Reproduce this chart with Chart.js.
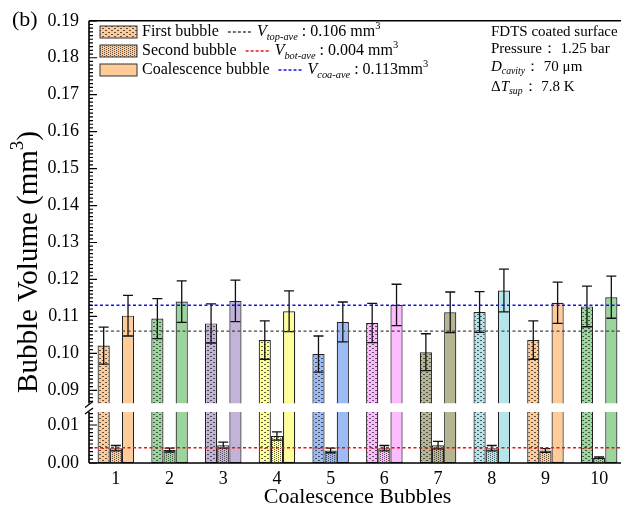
<!DOCTYPE html>
<html lang="en">
<head>
    <meta charset="UTF-8">
    <title>Coalescence Bubble Volume</title>
    <script src="https://cdn.jsdelivr.net/npm/chart.js"></script>
    <style>
        html, body { margin: 0; padding: 0; overflow: hidden; background: #fff; }
        /* wider than the window: the right edge of the plot is cropped like the original */
        #bubbleChartContainer { position: relative; width: 640px; height: 512px; }
    </style>
</head>
<body>
    <div id="bubbleChartContainer">
        <canvas id="bubbleChart"></canvas>
    </div>

    <script>
        // values (mm^3)
        const categories = ['1', '2', '3', '4', '5', '6', '7', '8', '9', '10'];
        const firstBubble = [0.1021, 0.1094, 0.1081, 0.1036, 0.0998, 0.1082, 0.1003, 0.1112, 0.1036, 0.1127];
        const firstErr = [0.0050, 0.0054, 0.0053, 0.0052, 0.0049, 0.0053, 0.0050, 0.0055, 0.0052, 0.0055];
        const secondBubble = [0.0039, 0.0034, 0.0047, 0.0071, 0.0033, 0.0039, 0.0047, 0.0039, 0.0033, 0.0014];
        const secondErr = [0.0007, 0.0005, 0.0008, 0.0011, 0.0006, 0.0007, 0.0010, 0.0007, 0.0005, 0.0002];
        const coalBubble = [0.1102, 0.1140, 0.1142, 0.1114, 0.1085, 0.1131, 0.1111, 0.1170, 0.1137, 0.1152];
        const coalErr = [0.0055, 0.0056, 0.0056, 0.0055, 0.0054, 0.0056, 0.0055, 0.0058, 0.0056, 0.0057];
        const barColors = ['#FFCC99', '#9AD69C', '#C4B3D8', '#FFFF99', '#9DBBF5', '#FFBBFF', '#B5B592', '#B3E5EB', '#FFCC99', '#9AD69C'];
        const avgTop = 0.106, avgBot = 0.004, avgCoa = 0.113;
        const upperTicks = [0.09, 0.10, 0.11, 0.12, 0.13, 0.14, 0.15, 0.16, 0.17, 0.18, 0.19];
        const lowerTicks = [0.00, 0.01];

        // broken axis limits
        const upperMin = 0.0841, upperFloor = 0.0864, upperMax = 0.19;
        const lowerMax = 0.0134;

        const FONT = '"Liberation Serif", "Times New Roman", serif';

        function makePattern(color, kind) {
            const c = document.createElement('canvas');
            c.width = kind === 'dash' ? 6 : 4;
            c.height = kind === 'dash' ? 4 : 2;
            const g = c.getContext('2d');
            g.fillStyle = color;
            g.fillRect(0, 0, c.width, c.height);
            g.fillStyle = 'rgba(40,40,40,0.75)';
            if (kind === 'dash') {
                g.fillRect(0, 0, 2, 1);
                g.fillRect(3, 2, 2, 1);
            } else {
                g.fillRect(0, 0, 1, 1);
                g.fillRect(2, 1, 1, 1);
            }
            return g.createPattern(c, 'repeat');
        }
        const firstFill = barColors.map(c => makePattern(c, 'dash'));
        const secondFill = barColors.map(c => makePattern(c, 'dot'));

        // text with italic / sub / superscript parts
        function drawRich(ctx, x, y, parts, size) {
            let cx = x;
            parts.forEach(p => {
                const s = (p.sub || p.sup) ? size * 0.65 : size;
                ctx.font = (p.i ? 'italic ' : '') + s + 'px ' + FONT;
                const dy = p.sub ? size * 0.3 : (p.sup ? -size * 0.38 : 0);
                ctx.fillText(p.t, cx, y + dy);
                cx += ctx.measureText(p.t).width;
            });
            return cx;
        }
        function richWidth(ctx, parts, size) {
            let w = 0;
            parts.forEach(p => {
                const s = (p.sub || p.sup) ? size * 0.65 : size;
                ctx.font = (p.i ? 'italic ' : '') + s + 'px ' + FONT;
                w += ctx.measureText(p.t).width;
            });
            return w;
        }

        const errorBars = {
            id: 'errorBars',
            afterDatasetsDraw(chart) {
                const ctx = chart.ctx;
                const sets = [[0, firstBubble, firstErr, 'yHigh'], [2, secondBubble, secondErr, 'yLow'], [3, coalBubble, coalErr, 'yHigh']];
                ctx.save();
                ctx.strokeStyle = '#111';
                ctx.lineWidth = 1.3;
                sets.forEach(([di, vals, errs, axis]) => {
                    const meta = chart.getDatasetMeta(di);
                    const ys = chart.scales[axis];
                    meta.data.forEach((bar, i) => {
                        const x = bar.x;
                        const y1 = ys.getPixelForValue(vals[i] + errs[i]);
                        const y2 = ys.getPixelForValue(vals[i] - errs[i]);
                        ctx.beginPath();
                        ctx.moveTo(x, y1); ctx.lineTo(x, y2);
                        ctx.moveTo(x - 5, y1); ctx.lineTo(x + 5, y1);
                        ctx.moveTo(x - 5, y2); ctx.lineTo(x + 5, y2);
                        ctx.stroke();
                    });
                });

                // average lines
                const area = chart.chartArea;
                ctx.lineWidth = 1.4;
                ctx.setLineDash([3, 2.5]);
                [[avgTop, 'yHigh', '#444'], [avgCoa, 'yHigh', '#1010ee'], [avgBot, 'yLow', '#ee1111']].forEach(([v, axis, col]) => {
                    const y = chart.scales[axis].getPixelForValue(v);
                    ctx.strokeStyle = col;
                    ctx.beginPath();
                    ctx.moveTo(area.left, y); ctx.lineTo(chart.width, y);
                    ctx.stroke();
                });
                ctx.restore();
            }
        };

        const frame = {
            id: 'frame',
            afterDraw(chart) {
                const ctx = chart.ctx;
                const area = chart.chartArea;
                const hi = chart.scales.yHigh, lo = chart.scales.yLow;
                const L = area.left;
                const hiBottom = hi.getPixelForValue(upperFloor);
                ctx.save();
                ctx.strokeStyle = '#000';
                ctx.lineWidth = 1.6;
                ctx.beginPath();
                ctx.moveTo(L, area.top); ctx.lineTo(chart.width, area.top);
                ctx.moveTo(L, area.bottom); ctx.lineTo(chart.width, area.bottom);
                ctx.moveTo(L, area.top); ctx.lineTo(L, hiBottom);
                ctx.moveTo(L, lo.top); ctx.lineTo(L, area.bottom);
                ctx.stroke();
                // break marks
                ctx.lineWidth = 1.3;
                ctx.beginPath();
                ctx.moveTo(L - 4, hiBottom + 4); ctx.lineTo(L + 4, hiBottom - 2);
                ctx.moveTo(L - 4, lo.top + 2); ctx.lineTo(L + 4, lo.top - 4);
                ctx.stroke();
                // inward ticks
                ctx.lineWidth = 1.2;
                ctx.beginPath();
                for (let k = 87; k <= 190; k++) {
                    const y = hi.getPixelForValue(k / 1000);
                    const len = k % 10 === 0 ? 8 : 4;
                    ctx.moveTo(L, y); ctx.lineTo(L + len, y);
                }
                for (let k = 0; k <= 13; k++) {
                    const y = lo.getPixelForValue(k / 1000);
                    const len = k % 10 === 0 ? 8 : 4;
                    ctx.moveTo(L, y); ctx.lineTo(L + len, y);
                }
                ctx.stroke();

                ctx.fillStyle = '#000';
                ctx.textBaseline = 'middle';
                ctx.textAlign = 'left';

                // panel label
                ctx.font = '22px ' + FONT;
                ctx.fillText('(b)', 12, 20);

                // y title
                const yParts = [{t: 'Bubble Volume (mm'}, {t: '3', sup: true}, {t: ')'}];
                ctx.save();
                ctx.translate(29, 262);
                ctx.rotate(-Math.PI / 2);
                const w = richWidth(ctx, yParts, 29);
                drawRich(ctx, -w / 2, 0, yParts, 29);
                ctx.restore();

                // legend
                const rows = [
                    {name: 'First bubble', fill: makePattern(barColors[0], 'dash'), y: 32, col: '#444',
                     parts: [{t: 'V', i: true}, {t: 'top-ave', i: true, sub: true}, {t: ' : 0.106 mm'}, {t: '3', sup: true}]},
                    {name: 'Second bubble', fill: makePattern(barColors[0], 'dot'), y: 51, col: '#ee1111',
                     parts: [{t: 'V', i: true}, {t: 'bot-ave', i: true, sub: true}, {t: ' : 0.004 mm'}, {t: '3', sup: true}]},
                    {name: 'Coalescence bubble', fill: barColors[0], y: 70, col: '#1010ee',
                     parts: [{t: 'V', i: true}, {t: 'coa-ave', i: true, sub: true}, {t: ' : 0.113mm'}, {t: '3', sup: true}]}
                ];
                rows.forEach(r => {
                    ctx.fillStyle = r.fill;
                    ctx.fillRect(100, r.y - 6, 37, 12);
                    ctx.strokeStyle = '#333';
                    ctx.lineWidth = 1;
                    ctx.setLineDash([]);
                    ctx.strokeRect(100, r.y - 6, 37, 12);
                    ctx.fillStyle = '#000';
                    const end = drawRich(ctx, 142, r.y, [{t: r.name}], 16);
                    ctx.strokeStyle = r.col;
                    ctx.lineWidth = 1.3;
                    ctx.setLineDash([3, 2]);
                    ctx.beginPath();
                    ctx.moveTo(end + 9, r.y); ctx.lineTo(end + 33, r.y);
                    ctx.stroke();
                    ctx.setLineDash([]);
                    drawRich(ctx, end + 38, r.y, r.parts, 16);
                });

                // conditions
                drawRich(ctx, 491, 32, [{t: 'FDTS coated surface'}], 15);
                drawRich(ctx, 491, 49, [{t: 'Pressure\uFF1A 1.25 bar'}], 15);
                drawRich(ctx, 491, 67, [{t: 'D', i: true}, {t: 'cavity', i: true, sub: true}, {t: '\uFF1A 70 \u03BCm'}], 15);
                drawRich(ctx, 491, 87, [{t: '\u0394'}, {t: 'T', i: true}, {t: 'sup', i: true, sub: true}, {t: '\uFF1A 7.8 K'}], 15);
                ctx.restore();
            }
        };

        const ctx = document.getElementById('bubbleChart').getContext('2d');
        const bubbleChart = new Chart(ctx, {
            type: 'bar',
            data: {
                labels: categories,
                datasets: [
                    {
                        label: 'First bubble', stack: 'first', yAxisID: 'yHigh',
                        data: firstBubble.map(v => [upperFloor, v]),
                        backgroundColor: firstFill, borderColor: '#222', borderWidth: 1.2, borderSkipped: 'bottom'
                    },
                    {
                        label: 'First bubble low', stack: 'first', yAxisID: 'yLow',
                        data: firstBubble.map(v => [0, Math.min(v, lowerMax)]),
                        backgroundColor: firstFill, borderColor: '#222', borderWidth: 1.2, borderSkipped: 'top'
                    },
                    {
                        label: 'Second bubble', stack: 'second', yAxisID: 'yLow',
                        data: secondBubble,
                        backgroundColor: secondFill, borderColor: '#222', borderWidth: 1.2, borderSkipped: 'bottom'
                    },
                    {
                        label: 'Coalescence bubble', stack: 'coal', yAxisID: 'yHigh',
                        data: coalBubble.map(v => [upperFloor, v]),
                        backgroundColor: barColors, borderColor: '#222', borderWidth: 1.2, borderSkipped: 'bottom'
                    },
                    {
                        label: 'Coalescence bubble low', stack: 'coal', yAxisID: 'yLow',
                        data: coalBubble.map(v => [0, Math.min(v, lowerMax)]),
                        backgroundColor: barColors, borderColor: '#222', borderWidth: 1.2, borderSkipped: 'top'
                    }
                ]
            },
            options: {
                responsive: true,
                maintainAspectRatio: false,
                animation: false,
                layout: { padding: { top: 19, right: 14, left: 0, bottom: 0 } },
                plugins: { legend: { display: false }, tooltip: { enabled: false } },
                datasets: { bar: { categoryPercentage: 0.68, barPercentage: 1 } },
                scales: {
                    x: {
                        grid: { display: false, drawTicks: false },
                        border: { display: false },
                        ticks: { color: '#000', font: { family: FONT, size: 18 }, padding: 5 },
                        title: { display: true, text: 'Coalescence Bubbles', color: '#000',
                                 font: { family: FONT, size: 22 }, padding: { top: 0, bottom: 2 } },
                        afterFit: s => { s.height = 49; }
                    },
                    yHigh: {
                        type: 'linear', position: 'left', stack: 'v', stackWeight: 392, weight: 1,
                        min: upperMin, max: upperMax, stacked: false,
                        grid: { display: false, drawTicks: false },
                        border: { display: false },
                        ticks: { color: '#000', font: { family: FONT, size: 18 }, padding: 10, autoSkip: false,
                                 callback: v => v.toFixed(2) },
                        afterBuildTicks: s => { s.ticks = upperTicks.map(v => ({ value: v })); },
                        afterFit: s => { s.width = 89; }
                    },
                    yLow: {
                        type: 'linear', position: 'left', stack: 'v', stackWeight: 51, weight: 0,
                        min: 0, max: lowerMax, stacked: false,
                        grid: { display: false, drawTicks: false },
                        border: { display: false },
                        ticks: { color: '#000', font: { family: FONT, size: 18 }, padding: 10, autoSkip: false,
                                 callback: v => v.toFixed(2) },
                        afterBuildTicks: s => { s.ticks = lowerTicks.map(v => ({ value: v })); },
                        afterFit: s => { s.width = 89; }
                    }
                }
            },
            plugins: [errorBars, frame]
        });
    </script>
</body>
</html>
